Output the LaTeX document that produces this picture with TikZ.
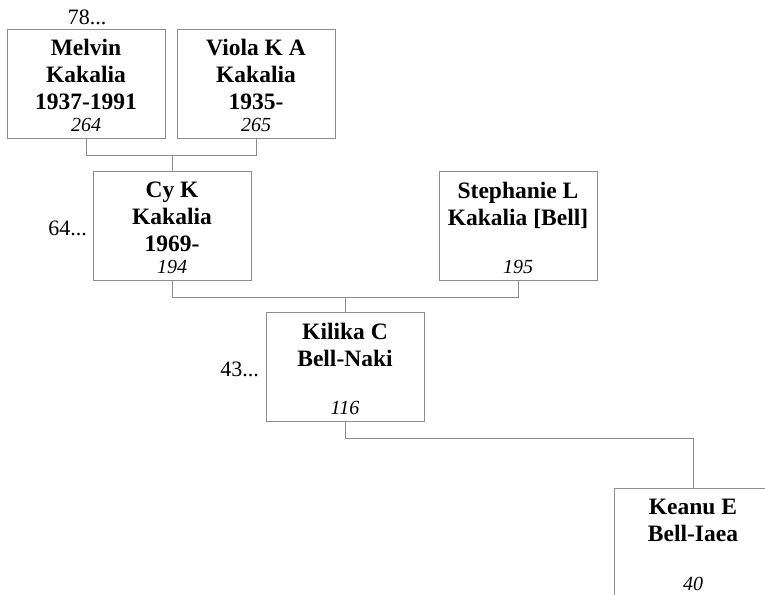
\documentclass[tikz,border=0pt]{standalone}
\usepackage{fontspec}
\setmainfont{Liberation Serif}

\definecolor{boxgray}{RGB}{140,140,140}

\tikzset{
  personbox/.style={rectangle,draw=boxgray,line width=1pt,minimum width=158pt,minimum height=109pt,inner sep=0pt},
  namelbl/.style={anchor=north,align=center,inner sep=0pt,font=\fontsize{23.5}{27}\selectfont\bfseries},
  numlbl/.style={anchor=base,inner sep=0pt,font=\fontsize{20}{24}\selectfont\itshape},
  genlbl/.style={inner sep=0pt,font=\fontsize{22}{26}\selectfont},
  link/.style={draw=boxgray,line width=1pt}
}

\begin{document}
\begin{tikzpicture}[x=1pt,y=1pt]
  \clip (0,0) rectangle (765,594);
  % Grandparents
  \node at(86,509.5)[personbox](melvin){};
  \node at(256,509.5)[personbox](viola){};
  \node at([yshift=-10pt]melvin.north)[namelbl](melvinname){Melvin\\Kakalia\\1937-1991};
  \node at([yshift=8pt]melvin.south)[numlbl](melvinnum){264};
  \node at([yshift=-10pt]viola.north)[namelbl](violaname){Viola K A\\Kakalia\\1935-};
  \node at([yshift=8pt]viola.south)[numlbl](violanum){265};
  \node at(87,569)[genlbl,anchor=base](gen78){78...};
  % Parents
  \node at(172,367.5)[personbox](cy){};
  \node at(518,367.5)[personbox](stephanie){};
  \node at([yshift=-10pt]cy.north)[namelbl](cyname){Cy K\\Kakalia\\1969-};
  \node at([yshift=8pt]cy.south)[numlbl](cynum){194};
  \node at([yshift=-10pt]stephanie.north)[namelbl](stephaniename){Stephanie L\\Kakalia [Bell]};
  \node at([yshift=8pt]stephanie.south)[numlbl](stephanienum){195};
  \node at(87,358)[genlbl,anchor=base east](gen64){64...};
  % Child
  \node at(345,226.5)[personbox](kilika){};
  \node at([yshift=-10pt]kilika.north)[namelbl](kilikaname){Kilika C\\Bell-Naki};
  \node at([yshift=8pt]kilika.south)[numlbl](kilikanum){116};
  \node at(259,217)[genlbl,anchor=base east](gen43){43...};
  % Grandchild
  \node at(693,50.5)[personbox](keanu){};
  \node at([yshift=-10pt]keanu.north)[namelbl](keanuname){Keanu E\\Bell-Iaea};
  \node at([yshift=8pt]keanu.south)[numlbl](keanunum){40};
  % Links
  \draw[link] (melvin.south) -- ++(0,-16) coordinate(j1) -| (viola.south);
  \draw[link] (cy.north |- j1) -- (cy.north);
  \draw[link] (cy.south) -- ++(0,-16) coordinate(j2) -| (stephanie.south);
  \draw[link] (kilika.north |- j2) -- (kilika.north);
  \draw[link] (kilika.south) -- ++(0,-16) -| (keanu.north);
\end{tikzpicture}
\end{document}
